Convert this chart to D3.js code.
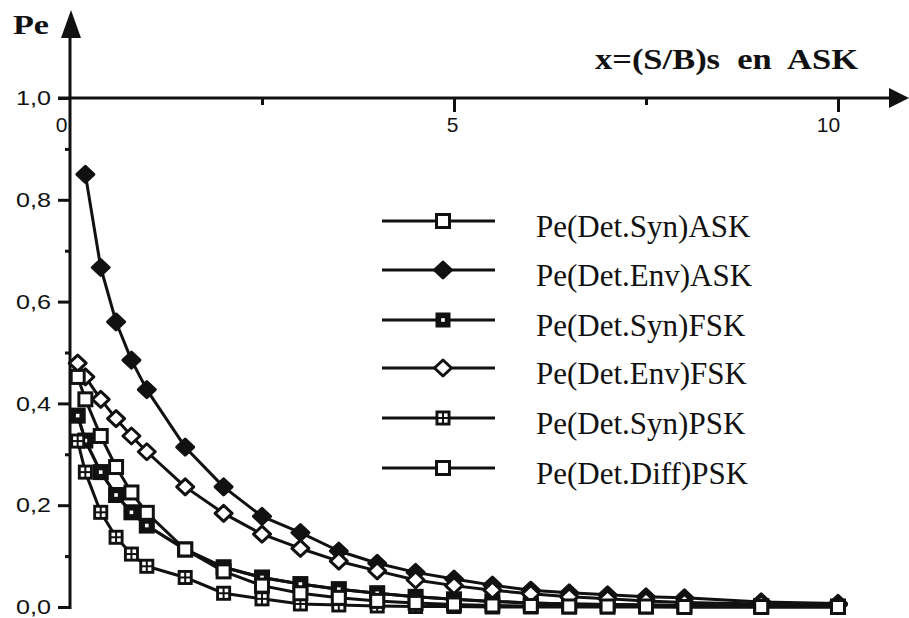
<!DOCTYPE html>
<html>
<head>
<meta charset="utf-8">
<script src="https://cdn.jsdelivr.net/npm/d3@7"></script>
<style>
  body { margin: 0; background: #fff; }
  svg { display: block; }
</style>
</head>
<body>
<div id="chart"></div>
<script>
// Values
var xVals = [0.1, 0.2, 0.4, 0.6, 0.8, 1.0, 1.5, 2, 2.5, 3, 3.5, 4, 4.5, 5, 5.5, 6, 6.5, 7, 7.5, 8, 9, 10]

var synASK  = [0.376, 0.327, 0.265, 0.220, 0.186, 0.160, 0.113, 0.078, 0.058, 0.045, 0.035, 0.027, 0.020, 0.015, 0.011, 0.008, 0.006, 0.005, 0.004, 0.003, 0.002, 0.001]
var envASK  = [null, 0.850, 0.667, 0.560, 0.485, 0.427, 0.314, 0.236, 0.178, 0.146, 0.110, 0.086, 0.068, 0.055, 0.043, 0.033, 0.028, 0.024, 0.020, 0.018, 0.010, 0.007]
var synFSK  = [0.376, 0.327, 0.265, 0.220, 0.186, 0.160, 0.113, 0.078, 0.058, 0.045, 0.035, 0.027, 0.020, 0.015, 0.011, 0.008, 0.006, 0.005, 0.004, 0.003, 0.002, 0.001]
var envFSK  = [0.479, 0.452, 0.408, 0.370, 0.336, 0.305, 0.236, 0.184, 0.143, 0.115, 0.090, 0.071, 0.053, 0.042, 0.033, 0.026, 0.020, 0.016, 0.012, 0.009, 0.006, 0.004]
var synPSK  = [0.326, 0.265, 0.186, 0.137, 0.104, 0.080, 0.058, 0.027, 0.016, 0.006, 0.004, 0.002, 0.001, 0.001, 0, 0, 0, 0, 0, 0, 0, 0]
var diffPSK = [0.452, 0.408, 0.336, 0.275, 0.225, 0.185, 0.113, 0.070, 0.042, 0.027, 0.018, 0.012, 0.008, 0.005, 0.003, 0.002, 0.001, 0.001, 0.001, 0, 0, 0]

var seriesNames = ["Pe(Det.Syn)ASK", "Pe(Det.Env)ASK", "Pe(Det.Syn)FSK", "Pe(Det.Env)FSK", "Pe(Det.Syn)PSK", "Pe(Det.Diff)PSK"]
var seriesValues = [synASK, envASK, synFSK, envFSK, synPSK, diffPSK]
var seriesMarkers = ["sqOpen", "diaFill", "sqFill", "diaOpen", "sqQuad", "sqOpen"]

var yTicks = [0, 0.2, 0.4, 0.6, 0.8, 1.0]
var yMinor = [0.1, 0.3, 0.5, 0.7, 0.9]
var xTicks = [0, 5, 10]
var xMinor = [2.5, 7.5]

canvas = ({width: 909, height: 618})

var x = d3.scaleLinear().domain([0, 10]).range([70, 838])
var y = d3.scaleLinear().domain([0, 1]).range([607, 98])

var svg = d3.select("#chart").append("svg")
    .attr("width", canvas.width)
    .attr("height", canvas.height)
    .attr("viewBox", [0, 0, canvas.width, canvas.height])

var ink = "#111"
var lw = 3

// Axes lines with arrows
svg.append("line")
    .attr("x1", x(0)).attr("x2", x(0))
    .attr("y1", y(0) + 2).attr("y2", 30)
    .attr("stroke", ink).attr("stroke-width", 3)
svg.append("path")
    .attr("d", "M" + (x(0) + 1) + ",10 L" + (x(0) - 9) + ",38 L" + (x(0) + 11) + ",38 Z")
    .attr("fill", ink)

svg.append("line")
    .attr("x1", 58).attr("x2", 895)
    .attr("y1", y(1)).attr("y2", y(1))
    .attr("stroke", ink).attr("stroke-width", 3)
svg.append("path")
    .attr("d", "M909," + y(1) + " L889," + (y(1) - 10) + " L889," + (y(1) + 10) + " Z")
    .attr("fill", ink)

// Y axis ticks
var yAxis = svg.append("g")
    .attr("transform", `translate(${x(0)},0)`)
    .call(d3.axisLeft(y).tickValues(yTicks).tickSize(12).tickPadding(7)
        .tickFormat(d => d.toFixed(1).replace(".", ",")))
yAxis.select(".domain").remove()
yAxis.selectAll("line").attr("stroke", ink).attr("stroke-width", 3)
yAxis.selectAll("text")
    .attr("font-family", "Liberation Sans, Arial, sans-serif")
    .attr("font-size", 21)
    .attr("textLength", 35)
    .attr("lengthAdjust", "spacingAndGlyphs")
    .attr("fill", ink)

var yAxisMinor = svg.append("g")
    .attr("transform", `translate(${x(0)},0)`)
    .call(d3.axisLeft(y).tickValues(yMinor).tickSize(5).tickFormat(""))
yAxisMinor.select(".domain").remove()
yAxisMinor.selectAll("line").attr("stroke", ink).attr("stroke-width", 3)

// X axis ticks (axis sits on Pe = 1,0)
var xAxis = svg.append("g")
    .attr("transform", `translate(0,${y(1)})`)
    .call(d3.axisBottom(x).tickValues(xTicks).tickSize(14).tickPadding(5))
xAxis.select(".domain").remove()
xAxis.selectAll("line").attr("stroke", ink).attr("stroke-width", 3)
    .filter(d => d === 0).remove()
xAxis.selectAll("text")
    .attr("font-family", "Liberation Sans, Arial, sans-serif")
    .attr("font-size", 21)
    .attr("fill", ink)
    .attr("dx", d => d === 0 ? -9 : (d === 10 ? -10 : -2))

var xAxisMinor = svg.append("g")
    .attr("transform", `translate(0,${y(1)})`)
    .call(d3.axisBottom(x).tickValues(xMinor).tickSize(7).tickFormat(""))
xAxisMinor.select(".domain").remove()
xAxisMinor.selectAll("line").attr("stroke", ink).attr("stroke-width", 3)

// Axis titles
svg.append("text")
    .attr("x", 13).attr("y", 34)
    .attr("font-family", "Liberation Serif, Times New Roman, serif")
    .attr("font-weight", "bold")
    .attr("font-size", 28)
    .attr("textLength", 36)
    .attr("lengthAdjust", "spacingAndGlyphs")
    .attr("fill", ink)
    .text("Pe")

svg.append("text")
    .attr("x", 595).attr("y", 69)
    .attr("font-family", "Liberation Serif, Times New Roman, serif")
    .attr("font-weight", "bold")
    .attr("font-size", 29)
    .attr("textLength", 263)
    .attr("lengthAdjust", "spacingAndGlyphs")
    .attr("fill", ink)
    .attr("xml:space", "preserve")
    .text("x=(S/B)s  en  ASK")

// Markers
function drawMarker(g, type, cx, cy) {
    if (type === "sqOpen") {
        g.append("rect").attr("x", cx - 6.5).attr("y", cy - 6.5).attr("width", 13).attr("height", 13)
            .attr("fill", "#fff").attr("stroke", ink).attr("stroke-width", 3)
    } else if (type === "sqFill") {
        g.append("rect").attr("x", cx - 6.5).attr("y", cy - 6.5).attr("width", 13).attr("height", 13)
            .attr("fill", ink).attr("stroke", ink).attr("stroke-width", 2)
        g.append("rect").attr("x", cx - 1.8).attr("y", cy - 1.8).attr("width", 3.6).attr("height", 3.6)
            .attr("fill", "#fff")
    } else if (type === "sqQuad") {
        g.append("rect").attr("x", cx - 7.5).attr("y", cy - 7.5).attr("width", 15).attr("height", 15)
            .attr("fill", ink)
        ;[[-1, -1], [1, -1], [-1, 1], [1, 1]].forEach(function(o) {
            g.append("rect").attr("x", cx + o[0] * 2.8 - 1.8).attr("y", cy + o[1] * 2.8 - 1.8)
                .attr("width", 3.6).attr("height", 3.6).attr("fill", "#fff")
        })
    } else if (type === "diaFill" || type === "diaOpen") {
        var w = 8.5, h = 8
        g.append("path")
            .attr("d", `M${cx},${cy - h} L${cx + w},${cy} L${cx},${cy + h} L${cx - w},${cy} Z`)
            .attr("fill", type === "diaFill" ? ink : "#fff")
            .attr("stroke", ink).attr("stroke-width", 3)
            .attr("stroke-linejoin", "round")
    }
}

var line = d3.line()
    .defined(d => d[1] !== null)
    .x(d => x(d[0]))
    .y(d => y(d[1]))

var plot = svg.append("g")

seriesValues.forEach(function(vals) {
    var pts = xVals.map((d, i) => [d, vals[i]])
    plot.append("path")
        .attr("fill", "none")
        .attr("stroke", ink)
        .attr("stroke-width", lw)
        .attr("stroke-linejoin", "round")
        .attr("d", line(pts))
})

seriesValues.forEach(function(vals, s) {
    var g = plot.append("g")
    xVals.forEach(function(d, i) {
        if (vals[i] === null) return
        drawMarker(g, seriesMarkers[s], x(d), y(vals[i]))
    })
})

// Legend
var legendRows = [221, 270, 320, 368, 418, 468]
var legend = svg.append("g")
seriesNames.forEach(function(name, i) {
    var ly = legendRows[i]
    legend.append("line")
        .attr("x1", 382).attr("x2", 495)
        .attr("y1", ly).attr("y2", ly)
        .attr("stroke", ink).attr("stroke-width", lw)
    drawMarker(legend, seriesMarkers[i], 443, ly)
    legend.append("text")
        .attr("x", 536).attr("y", ly + 16)
        .attr("font-family", "Liberation Serif, Times New Roman, serif")
        .attr("font-size", 31)
        .attr("fill", ink)
        .text(name)
})
</script>
</body>
</html>
